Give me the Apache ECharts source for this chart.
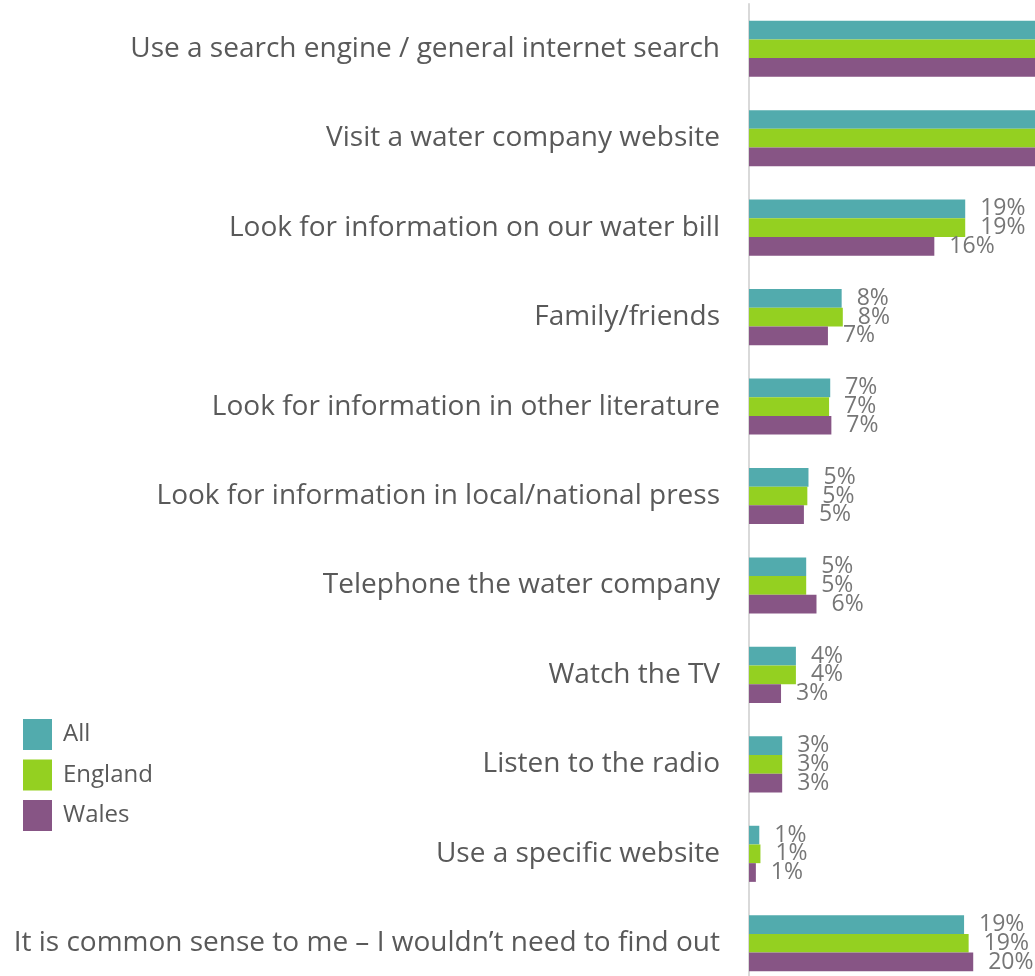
<!DOCTYPE html>
<html>
<head>
<meta charset="utf-8">
<script src="https://cdn.jsdelivr.net/npm/echarts@6/dist/echarts.min.js"></script>
<style>
  html, body { margin: 0; padding: 0; background: #ffffff; }
  #chart { width: 1035px; height: 976px; }
</style>
</head>
<body>
<div id="chart"></div>
<script>
// Where people would look for information (share of respondents, %)
const categories = [
  'Use a search engine / general internet search',
  'Visit a water company website',
  'Look for information on our water bill',
  'Family/friends',
  'Look for information in other literature',
  'Look for information in local/national press',
  'Telephone the water company',
  'Watch the TV',
  'Listen to the radio',
  'Use a specific website',
  'It is common sense to me \u2013 I wouldn\u2019t need to find out'
];
const allValues     = [54, 46, 18.9, 8.1, 7.1, 5.2, 5.0, 4.1, 2.9, 0.9, 18.8];
const englandValues = [54, 46, 18.9, 8.2, 7.0, 5.1, 5.0, 4.1, 2.9, 1.0, 19.2];
const walesValues   = [54, 46, 16.2, 6.9, 7.2, 4.8, 5.9, 2.8, 2.9, 0.6, 19.6];
const seriesNames = ['All', 'England', 'Wales'];
const seriesColors = ['#52abad', '#94d021', '#875585'];
const axisMax = 25;

const font = '"Open Sans", "Liberation Sans", sans-serif';

const chart = echarts.init(document.getElementById('chart'), null, { renderer: 'canvas' });

function makeSeries(name, values, color) {
  return {
    name: name,
    type: 'bar',
    data: values,
    barWidth: 18.7,
    barGap: '0%',
    itemStyle: { color: color },
    clip: true,
    label: {
      show: true,
      position: 'right',
      distance: 15,
      fontFamily: font,
      fontSize: 23,
      color: '#767676',
      formatter: p => (p.value > axisMax ? '' : Math.round(p.value) + '%')
    }
  };
}

chart.setOption({
  animation: false,
  backgroundColor: '#ffffff',
  textStyle: { fontFamily: font },
  grid: {
    left: 749, right: 0, top: 4, height: 984,
    containLabel: false,
    outerBoundsMode: 'none'
  },
  legend: {
    orient: 'vertical',
    left: 23,
    top: 719,
    padding: 0,
    itemWidth: 29,
    itemHeight: 31,
    itemGap: 9.5,
    icon: 'rect',
    selectedMode: false,
    data: seriesNames,
    textStyle: { fontFamily: font, fontSize: 24, color: '#595959', padding: [0, 0, 0, 6] }
  },
  xAxis: {
    type: 'value',
    min: 0,
    max: axisMax,
    show: false,
    splitLine: { show: false }
  },
  yAxis: {
    type: 'category',
    inverse: true,
    data: categories,
    axisLine: { show: true, lineStyle: { color: '#d9d9d9', width: 2 } },
    axisTick: { show: false },
    splitLine: { show: false },
    axisLabel: {
      margin: 29,
      fontFamily: font,
      fontSize: 28,
      color: '#595959'
    }
  },
  series: [
    makeSeries(seriesNames[0], allValues, seriesColors[0]),
    makeSeries(seriesNames[1], englandValues, seriesColors[1]),
    makeSeries(seriesNames[2], walesValues, seriesColors[2])
  ]
});
</script>
</body>
</html>
